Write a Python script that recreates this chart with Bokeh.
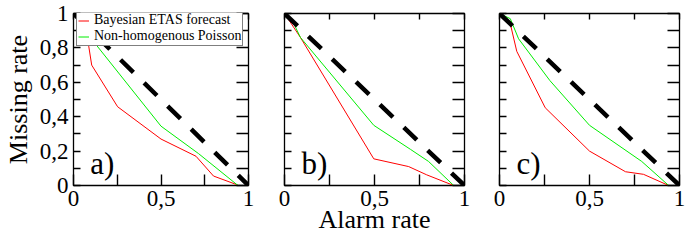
from bokeh.plotting import figure
from bokeh.layouts import row
from bokeh.models import Range1d, FixedTicker, Legend, LegendItem, Label, LinearAxis
from bokeh.embed import file_html
from bokeh.resources import INLINE

# ---------------- data ----------------
alarm_a_etas = [0, 0.067, 0.104, 0.252, 0.5, 0.7, 0.8, 0.93, 0.94, 1]
miss_a_etas = [1, 0.94, 0.70, 0.458, 0.27, 0.17, 0.055, 0.006, 0, 0]
alarm_a_pois = [0, 0.067, 0.12, 0.5, 0.715, 0.94, 1]
miss_a_pois = [1, 0.966, 0.83, 0.345, 0.185, 0, 0]

alarm_b_etas = [0, 0.089, 0.496, 0.69, 0.79, 0.94, 1]
miss_b_etas = [1, 0.86, 0.155, 0.11, 0.062, 0, 0]
alarm_b_pois = [0, 0.052, 0.089, 0.496, 0.7, 0.8, 0.94, 1]
miss_b_pois = [1, 0.94, 0.86, 0.35, 0.21, 0.14, 0, 0]

alarm_c_etas = [0, 0.06, 0.096, 0.254, 0.5, 0.7, 0.8, 0.94, 1]
miss_c_etas = [1, 0.94, 0.78, 0.452, 0.2, 0.08, 0.065, 0, 0]
alarm_c_pois = [0, 0.06, 0.106, 0.28, 0.5, 0.79, 0.94, 1]
miss_c_pois = [1, 0.97, 0.853, 0.61, 0.35, 0.14, 0, 0]

diag_alarm = [0, 1]
diag_miss = [1, 0]

panel_names = ["a)", "b)", "c)"]
legend_labels = ["Bayesian ETAS forecast", "Non-homogenous Poisson"]
x_label = "Alarm rate"
y_label = "Missing rate"

x_ticks = [0, 0.25, 0.5, 0.75, 1]
x_tick_labels = {0: "0", 0.25: "", 0.5: "0,5", 0.75: "", 1: "1"}
y_ticks = [0, 0.2, 0.4, 0.6, 0.8, 1]
y_minor_ticks = [0.1, 0.3, 0.5, 0.7, 0.9]
y_tick_labels = {0: "0", 0.2: "0,2", 0.4: "0,4", 0.6: "0,6", 0.8: "0,8", 1: "1"}

# ---------------- style ----------------
FONT = "Liberation Serif"
TICK_FONT = "23px"
AXIS_FONT = "26px"
H = 241
FW = 180
TOP = 13
BOTTOM = 56
FH = H - TOP - BOTTOM
TICK_LEFT, TICK_RIGHT, TICK_TOP, TICK_BOTTOM = 7, 12, 6, 11


def style_axis(ax, ticks, minor, tick_in, overrides=None):
    ax.ticker = FixedTicker(ticks=ticks, minor_ticks=minor)
    ax.axis_line_color = None
    ax.major_tick_in = tick_in
    ax.major_tick_out = 0
    ax.minor_tick_in = tick_in
    ax.minor_tick_out = 0
    ax.major_tick_line_color = "black"
    ax.minor_tick_line_color = "black"
    ax.major_tick_line_width = 1.4
    ax.minor_tick_line_width = 1.4
    ax.major_label_text_font = FONT
    ax.major_label_text_color = "black"
    ax.major_label_text_font_size = TICK_FONT
    if overrides is None:
        ax.major_label_text_color = None
        ax.major_label_text_font_size = "1px"
        ax.major_label_standoff = 0
    else:
        ax.major_label_overrides = overrides
    ax.axis_label_text_font = FONT
    ax.axis_label_text_font_size = AXIS_FONT
    ax.axis_label_text_font_style = "normal"
    ax.axis_label_text_color = "black"


def make_panel(idx, ax_e, my_e, ax_p, my_p, left, right, show_ylabels,
               xlabel=None, ylabel=None):
    p = figure(width=left + FW + right, height=H,
               x_range=Range1d(0, 1), y_range=Range1d(0, 1),
               output_backend="svg", toolbar_location=None,
               min_border_left=left, min_border_right=right,
               min_border_top=TOP, min_border_bottom=BOTTOM)
    p.xgrid.visible = False
    p.ygrid.visible = False
    p.outline_line_color = "black"
    p.outline_line_width = 1.3
    p.outline_line_alpha = 1

    bx = p.xaxis[0]
    style_axis(bx, x_ticks, [], TICK_BOTTOM, x_tick_labels)
    bx.major_label_standoff = 5
    if xlabel:
        bx.axis_label = xlabel
        bx.axis_label_standoff = -4

    ly = p.yaxis[0]
    style_axis(ly, y_ticks, y_minor_ticks, TICK_LEFT,
               y_tick_labels if show_ylabels else None)
    if show_ylabels:
        ly.major_label_standoff = 5
    if ylabel:
        ly.axis_label = ylabel
        ly.axis_label_standoff = 4

    ry = LinearAxis()
    style_axis(ry, y_ticks, y_minor_ticks, TICK_RIGHT)
    p.add_layout(ry, "right")
    tx = LinearAxis()
    style_axis(tx, x_ticks, [], TICK_TOP)
    p.add_layout(tx, "above")

    r_e = p.line(ax_e, my_e, line_color="#ff0000", line_width=1)
    r_p = p.line(ax_p, my_p, line_color="#00ee00", line_width=1)
    p.line(diag_alarm, diag_miss, line_color="black", line_width=4.5,
           line_dash="18 15")

    p.add_layout(Label(x=0.095, y=0.13, text=panel_names[idx],
                       text_font=FONT, text_font_size="31px",
                       text_color="black", text_baseline="alphabetic"))
    return p, r_e, r_p


pa, ra_e, ra_p = make_panel(0, alarm_a_etas, miss_a_etas, alarm_a_pois, miss_a_pois,
                            68, 18, True, ylabel=y_label)

legend = Legend(items=[LegendItem(label=legend_labels[0], renderers=[ra_e]),
                       LegendItem(label=legend_labels[1], renderers=[ra_p])],
                location=(3, FH - 33),
                label_text_font=FONT, label_text_font_size="14px",
                label_text_color="black",
                glyph_width=11, glyph_height=15, label_height=15,
                label_standoff=5, padding=1, spacing=0, margin=0,
                border_line_color="black", border_line_width=1,
                background_fill_color="white", background_fill_alpha=1)
pa.add_layout(legend)

pb, _, _ = make_panel(1, alarm_b_etas, miss_b_etas, alarm_b_pois, miss_b_pois,
                      18, 17, False, xlabel=x_label)
pc, _, _ = make_panel(2, alarm_c_etas, miss_c_etas, alarm_c_pois, miss_c_pois,
                      18, 6, False)

layout = row(pa, pb, pc)
open("out.html", "w").write(file_html(layout, INLINE))
